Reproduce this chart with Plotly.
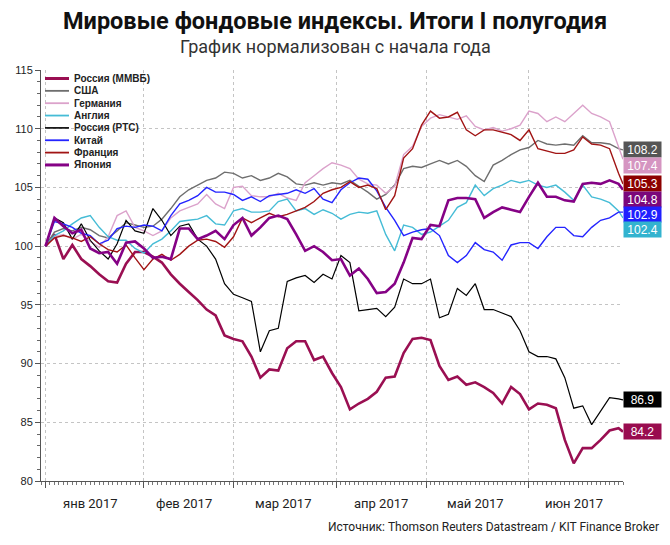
import pandas as pd
import plotly.graph_objects as go

# ---------------- data ----------------
bdays = pd.bdate_range("2017-01-02", "2017-06-30")
sample_idx = list(range(0, 129, 2)) + [129]
dates = [bdays[i] for i in sample_idx]

names = ["Россия (ММВБ)", "США", "Германия", "Англия", "Россия (РТС)", "Китай", "Франция", "Япония"]

micex = [100.0, 101.0, 98.9, 100.1, 98.9, 98.3, 97.6, 97.0, 96.9, 98.5,
         99.5, 99.5, 99.1, 98.6, 97.6, 96.8, 96.1, 95.4, 94.6, 94.1,
         92.4, 92.1, 91.9, 90.6, 88.8, 89.5, 89.4, 91.3, 91.9, 91.9,
         90.3, 90.6, 89.2, 88.0, 86.1, 86.6, 87.0, 87.6, 88.8, 88.9,
         90.9, 92.1, 92.2, 92.0, 89.8, 88.6, 88.9, 88.2, 88.4, 88.0,
         87.5, 86.6, 88.0, 87.4, 86.1, 86.6, 86.5, 86.2, 83.5, 81.5,
         82.8, 82.8, 83.5, 84.3, 84.5, 84.2]
usa = [100.0, 101.2, 101.5, 101.3, 101.6, 101.4, 100.9, 100.7, 101.3, 102.0,
       101.8, 101.6, 101.7, 102.3, 103.2, 104.2, 104.8, 105.2, 105.6, 105.8,
       106.3, 106.2, 105.8, 106.0, 105.6, 105.8, 106.2, 105.9, 105.3, 105.2,
       105.4, 105.2, 105.4, 105.3, 105.6, 105.1, 104.6, 104.0, 104.4, 105.2,
       106.6, 106.8, 106.7, 107.0, 107.3, 107.0, 107.3, 106.8, 106.0, 105.5,
       106.9, 107.3, 107.8, 108.2, 108.4, 109.0, 108.7, 108.6, 108.7, 108.6,
       109.4, 108.8, 108.8, 108.7, 108.3, 108.2]
germany = [100.0, 100.8, 101.0, 100.6, 101.0, 100.4, 99.9, 100.8, 102.6, 103.0,
           101.6, 101.3, 100.9, 101.3, 102.4, 103.0, 103.3, 103.6, 104.4, 103.6,
           103.2, 105.0, 105.1, 104.3, 104.2, 104.2, 104.5, 104.1, 103.9, 105.4,
           106.0, 106.6, 107.1, 106.9, 106.6, 105.7, 105.3, 105.2, 104.5, 105.1,
           107.8, 108.5, 110.2, 110.9, 111.2, 111.0, 110.8, 111.1, 110.2, 109.9,
           110.1, 109.8, 110.0, 110.3, 111.5, 111.3, 110.6, 111.0, 110.6, 111.3,
           112.0, 111.3, 111.0, 110.6, 108.4, 107.4]
england = [100.0, 100.9, 101.3, 101.9, 102.4, 102.6, 101.6, 100.8, 100.5, 100.5,
           99.8, 99.4, 100.2, 100.6, 101.3, 102.1, 102.2, 102.3, 102.6, 101.9,
           101.8, 103.0, 103.2, 102.9, 102.9, 103.0, 103.8, 104.0, 103.0, 103.2,
           102.7, 103.1, 102.8, 102.3, 102.7, 102.9, 102.8, 103.0, 101.0, 99.6,
           101.8, 101.6, 101.0, 101.2, 101.7, 102.2, 103.3, 103.7, 105.2, 104.3,
           104.9, 105.2, 105.6, 105.4, 105.6, 105.2, 105.0, 105.2, 104.6, 103.9,
           105.2, 104.2, 104.0, 103.7, 103.0, 102.4]
rts = [100.0, 102.4, 102.0, 100.6, 101.9, 100.5, 99.6, 98.9, 100.2, 102.2,
       101.3, 101.1, 103.2, 102.2, 100.9, 101.7, 101.9, 100.6, 100.0, 98.9,
       96.8, 95.9, 95.6, 95.3, 91.0, 92.8, 93.0, 97.0, 97.3, 97.5,
       96.9, 97.6, 97.2, 99.2, 98.6, 94.5, 94.6, 94.7, 94.0, 94.8,
       97.2, 96.8, 96.8, 97.2, 93.9, 94.2, 96.4, 95.8, 96.8, 94.6,
       94.6, 94.3, 94.0, 92.8, 91.0, 90.6, 90.6, 90.4, 88.8, 86.2,
       86.4, 84.8, 86.0, 87.1, 87.0, 86.9]
china = [100.0, 102.1, 101.9, 101.6, 101.1, 100.9, 100.2, 100.5, 101.5, 101.7,
         101.6, 101.8, 101.7, 101.3, 102.6, 103.6, 103.9, 104.3, 105.0, 104.6,
         104.6, 104.4, 103.9, 104.2, 103.8, 104.3, 104.4, 104.5, 104.8, 104.5,
         104.9, 104.0, 103.7, 104.8, 105.4, 105.8, 105.7, 104.7, 103.3, 102.2,
         100.9, 101.2, 101.4, 101.5, 100.9, 99.2, 98.6, 99.2, 100.3, 99.7,
         99.5, 98.8, 100.1, 100.3, 100.3, 99.8, 100.8, 101.6, 101.6, 100.9,
         100.8, 101.6, 102.2, 102.4, 102.9, 102.9]
france = [100.0, 100.7, 100.9, 100.7, 100.4, 100.8, 100.2, 99.7, 99.5, 100.1,
          99.0, 98.0, 98.9, 99.3, 98.8, 99.3, 100.0, 100.5, 100.6, 100.4,
          99.9, 100.8, 102.4, 102.0, 102.4, 102.8, 102.5, 102.7, 103.0, 103.3,
          103.8, 104.5, 104.8, 105.0, 105.5, 105.0, 105.2, 104.9, 103.1, 104.3,
          107.5, 108.3, 110.3, 111.5, 110.9, 111.0, 111.4, 109.9, 109.4, 109.9,
          109.9, 109.7, 109.5, 109.0, 109.9, 108.3, 108.1, 107.9, 107.9, 108.2,
          109.3, 108.7, 108.6, 108.3, 106.2, 105.3]
japan = [100.0, 102.4, 101.7, 101.1, 101.4, 99.8, 99.4, 99.5, 98.5, 100.3,
         100.4, 99.8, 99.0, 99.1, 98.9, 101.5, 101.5, 100.6, 100.9, 101.3,
         100.6, 101.8, 102.4, 100.9, 101.6, 102.4, 102.6, 102.3, 101.0, 99.6,
         100.0, 99.5, 98.8, 98.9, 97.5, 98.1, 97.2, 96.0, 96.1, 96.8,
         98.6, 100.7, 100.6, 101.8, 101.7, 103.9, 104.1, 104.1, 104.0, 102.4,
         102.9, 103.3, 103.1, 102.9, 104.2, 105.4, 104.2, 104.2, 103.9, 103.8,
         105.3, 105.4, 105.3, 105.6, 105.3, 104.8]

values = [micex, usa, germany, england, rts, china, france, japan]

month_starts = ["2017-01-02", "2017-02-01", "2017-03-01", "2017-04-03", "2017-05-01", "2017-06-01"]
month_mid = ["2017-01-16", "2017-02-14", "2017-03-16", "2017-04-17", "2017-05-16", "2017-06-15"]
month_labels = ["янв 2017", "фев 2017", "мар 2017", "апр 2017", "май 2017", "июн 2017"]
y_ticks = [80, 85, 90, 95, 100, 105, 110, 115]

# ---------------- styles ----------------
line_colors = ["#9a0f52", "#6e6e6e", "#dba2cb", "#45bcd6", "#000000", "#2424ff", "#a11414", "#850285"]
line_widths = [2.6, 1.4, 1.4, 1.4, 1.2, 1.4, 1.4, 2.6]
box_colors = ["#990c4f", "#555555", "#d595c1", "#33b3cf", "#000000", "#2020ff", "#8c0000", "#7b077b"]

W, H = 670, 545
L, R, T, B = 41, 47, 70, 64
PW, PH = W - L - R, H - T - B
YMIN, YMAX = 80, 115
px_per_unit = PH / (YMAX - YMIN)


def px(X):
    return (X - L) / PW


def py(Y):
    return (H - B - Y) / PH


fig = go.Figure()
for name, vals, c, w in zip(names, values, line_colors, line_widths):
    fig.add_trace(go.Scatter(x=dates, y=vals, mode="lines", name=name,
                             line=dict(color=c, width=w), showlegend=False,
                             hoverinfo="skip"))

tickfont = dict(family="Liberation Sans, Arial", size=11, color="#1c1c24")
axis_common = dict(range=[YMIN, YMAX], tickmode="array", tickvals=y_ticks,
                   ticks="outside", ticklen=5, tickcolor="#555", showline=True,
                   linecolor="#555", linewidth=1, zeroline=False, tickfont=tickfont,
                   minor=dict(dtick=1, ticks="outside", ticklen=3, tickcolor="#666",
                              showgrid=False))

annotations = []
shapes = []

# title / subtitle
annotations.append(dict(text="<b>Мировые фондовые индексы. Итоги I полугодия</b>",
                        x=px(W / 2), xref="paper", y=py(21), yref="paper",
                        xanchor="center", yanchor="middle", showarrow=False,
                        font=dict(family="Roboto", size=23.5, color="#111")))
annotations.append(dict(text="График нормализован с начала года",
                        x=px(W / 2), xref="paper", y=py(46), yref="paper",
                        xanchor="center", yanchor="middle", showarrow=False,
                        font=dict(family="Roboto", size=18, color="#333")))
# month labels
for d, lab in zip(month_mid, month_labels):
    annotations.append(dict(text=lab, x=d, xref="x", y=py(503), yref="paper",
                            xanchor="center", yanchor="middle", showarrow=False,
                            font=dict(family="Roboto", size=13, color="#222")))
# source
annotations.append(dict(text="Источник: Thomson Reuters Datastream / KIT Finance Broker",
                        x=px(661), xref="paper", y=py(527), yref="paper",
                        xanchor="right", yanchor="middle", showarrow=False,
                        font=dict(family="Roboto", size=12, color="#222")))

# legend (manual, compact)
for k, (name, c, w) in enumerate(zip(names, line_colors, line_widths)):
    Y = 78.5 + k * 12.35
    shapes.append(dict(type="line", xref="paper", yref="paper", x0=px(45), x1=px(69),
                       y0=py(Y), y1=py(Y), line=dict(color=c, width=min(w + 0.4, 3))))
    annotations.append(dict(text="<b>" + name + "</b>", x=px(72), xref="paper", y=py(Y),
                            yref="paper", xanchor="left", yanchor="middle", showarrow=False,
                            font=dict(family="Liberation Sans, Arial", size=10, color="#222")))

# end-value labels (stacked to avoid overlap)
gap = 15.2 / px_per_unit
order = sorted(range(len(values)), key=lambda i: -values[i][-1])
prev = None
for i in order:
    v = values[i][-1]
    pos = v if prev is None or prev - v >= gap else prev - gap
    prev = pos
    annotations.append(dict(text=f"{v:.1f}", x=1, xref="paper", y=pos, yref="y",
                            xanchor="left", yanchor="middle", showarrow=False,
                            bgcolor=box_colors[i], width=35, height=13, borderpad=1,
                            align="center",
                            font=dict(family="Liberation Sans, Arial", size=12, color="white")))

fig.update_layout(
    width=W, height=H,
    margin=dict(l=L, r=R, t=T, b=B),
    paper_bgcolor="white", plot_bgcolor="white",
    showlegend=False,
    xaxis=dict(type="date", range=["2016-12-30", "2017-06-30"],
               rangebreaks=[dict(bounds=["sat", "mon"])],
               tickmode="array", tickvals=month_starts, ticktext=[""] * len(month_starts),
               ticks="outside", ticklen=6, tickcolor="#555",
               showgrid=True, gridcolor="#c4c4c4", griddash="dot", gridwidth=1,
               showline=True, linecolor="#555", linewidth=1, zeroline=False,
               minor=dict(dtick=86400000, tick0="2017-01-02", ticks="outside", ticklen=3,
                          tickcolor="#777", showgrid=False)),
    yaxis=dict(**axis_common, showgrid=True, gridcolor="#c4c4c4", griddash="dot", gridwidth=1),
    yaxis2=dict(**axis_common, overlaying="y", side="right", anchor="x", showgrid=False),
    annotations=annotations,
    shapes=shapes,
)

fig.write_html("out.html")
